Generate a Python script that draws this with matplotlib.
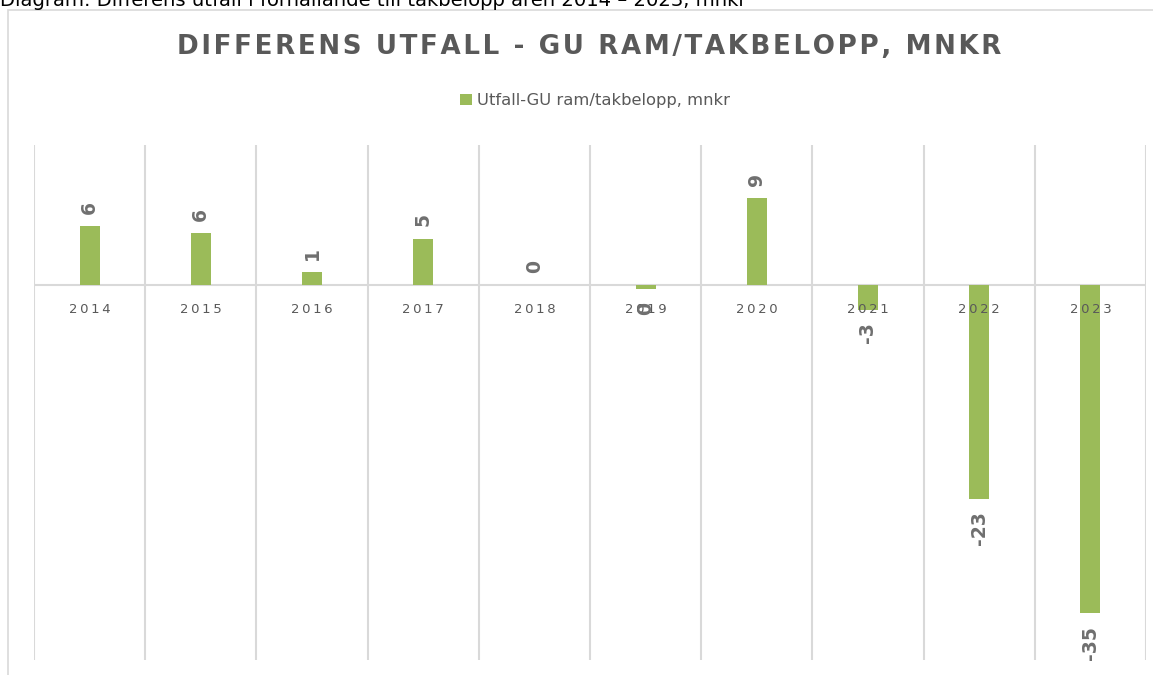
import matplotlib
matplotlib.use('Agg')
import matplotlib.pyplot as plt
from matplotlib.patches import Rectangle
import numpy as np

# data
years = ['2014', '2015', '2016', '2017', '2018', '2019', '2020', '2021', '2022', '2023']
diff = [6.3, 5.6, 1.4, 5.0, 0.0, -0.4, 9.3, -2.6, -22.8, -35.0]

green = '#9bbb59'
grey = '#595959'
labgrey = '#6f6f6f'
gridc = '#d9d9d9'

fig = plt.figure(figsize=(11.53, 6.75), dpi=100)

# caption above the chart box (mostly cut off at the top, as in the source)
fig.text(0.0, 0.991, 'Diagram: Differens utfall i förhållande till takbelopp åren 2014 – 2023, mnkr',
         fontsize=14.1, color='black', ha='left', va='baseline')

# chart box border
fig.patches.append(Rectangle((8 / 1153, -0.01), 1.1, (675 - 10) / 675 + 0.01,
                             transform=fig.transFigure, fill=False,
                             edgecolor=gridc, linewidth=1.2))

title = 'DIFFERENS UTFALL - GU RAM/TAKBELOPP, MNKR'
fig.text(0.511, 0.930, '\u200a'.join(title),
         fontsize=18.8, fontweight='bold', color=grey, ha='center', va='center')

ax = fig.add_axes([34 / 1153, 15 / 675, (1146 - 34) / 1153, (660 - 145) / 675])

x = np.arange(len(years))
bars = ax.bar(x, diff, width=0.18, color=green, zorder=3,
              label='Utfall-GU ram/takbelopp, mnkr')

ax.set_xlim(-0.5, len(years) - 0.5)
ax.set_ylim(-40, 15)

# category boundaries
for b in np.arange(-0.5, len(years), 1.0):
    ax.axvline(b, color=gridc, linewidth=1.5, zorder=1)
ax.axhline(0, color=gridc, linewidth=1.5, zorder=2)

for s in ax.spines.values():
    s.set_visible(False)
ax.set_xticks([])
ax.set_yticks([])

# year labels just under the zero line
for i, yr in enumerate(years):
    ax.annotate('\u2009'.join(yr), (i, 0), xytext=(0, -17), textcoords='offset points',
                ha='center', va='center', fontsize=9.5, color=grey, zorder=4)

# data labels, rotated
for i, v in enumerate(diff):
    lab = str(int(round(v)))
    if lab == '-0':
        lab = '0'
    if v >= 0:
        ax.annotate(lab, (i, v), xytext=(0, 9), textcoords='offset points',
                    ha='center', va='bottom', rotation=90, fontsize=13.5,
                    fontweight='bold', color=labgrey, zorder=5)
    else:
        ax.annotate(lab, (i, v), xytext=(0, -9), textcoords='offset points',
                    ha='center', va='top', rotation=90, fontsize=13.5,
                    fontweight='bold', color=labgrey, zorder=5)

leg = fig.legend(handles=[bars], labels=['Utfall-GU ram/takbelopp, mnkr'],
                 loc='center', bbox_to_anchor=(0.516, 0.851), frameon=False,
                 fontsize=11.8, handlelength=0.7, handleheight=0.7, handletextpad=0.3)
for t in leg.get_texts():
    t.set_color(grey)

fig.savefig('out.png', dpi=100)
